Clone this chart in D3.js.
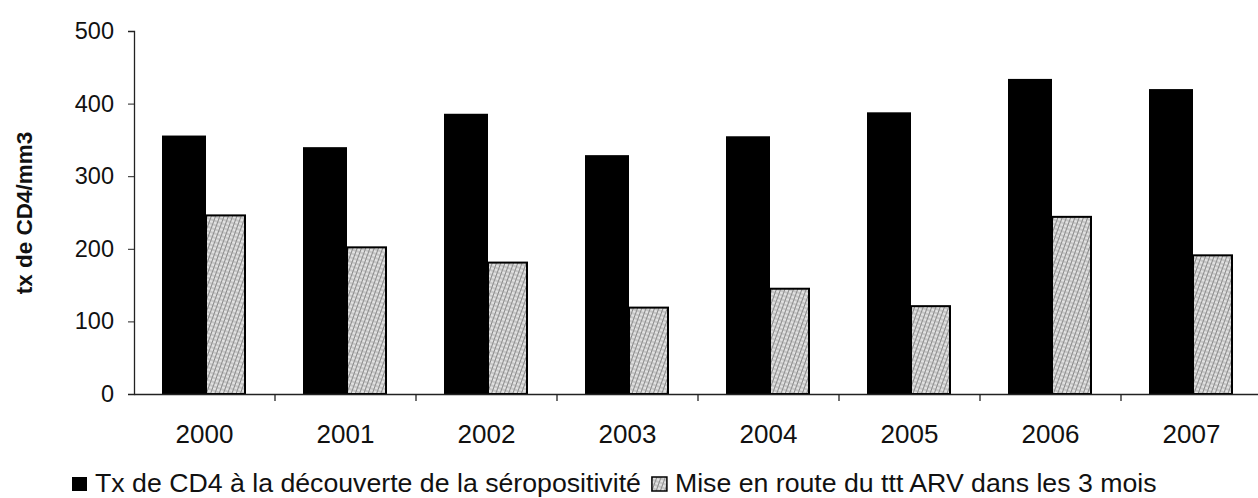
<!DOCTYPE html>
<html>
<head>
<meta charset="utf-8">
<script src="https://cdn.jsdelivr.net/npm/d3@7"></script>
<style>
  body { margin: 0; background: #fff; }
  svg { font-family: Arial, "Liberation Sans", sans-serif; }
</style>
</head>
<body>
<svg width="1258" height="498"></svg>
<script>
let years = ["2000", "2001", "2002", "2003", "2004", "2005", "2006", "2007"];
let cd4Decouverte = [356, 340, 386, 329, 355, 388, 434, 420];
let cd4MiseEnRoute = [246, 202, 181, 119, 145, 121, 244, 191];
let seriesNames = ["Tx de CD4 à la découverte de la séropositivité", "Mise en route du ttt ARV dans les 3 mois"];
let yTicks = [0, 100, 200, 300, 400, 500];

let svg = d3.select("svg");

// hatch pattern for second series
let defs = svg.append("defs");
let pat = defs.append("pattern")
  .attr("id", "hatch")
  .attr("width", 4).attr("height", 4)
  .attr("patternUnits", "userSpaceOnUse")
  .attr("patternTransform", "rotate(20)");
pat.append("rect").attr("width", 4).attr("height", 4).attr("fill", "#e2e2e2");
pat.append("line").attr("x1", 0).attr("y1", 0).attr("x2", 0).attr("y2", 4)
  .attr("stroke", "#4a4a4a").attr("stroke-width", 1.2);
pat.append("line").attr("x1", 0).attr("y1", 2).attr("x2", 4).attr("y2", 2)
  .attr("stroke", "#999").attr("stroke-width", 0.8);

let plotLeft = 134, plotRight = 1262, plotTop = 31, plotBottom = 394;

let x = d3.scaleBand().domain(years).range([plotLeft, plotRight]);
let y = d3.scaleLinear().domain([0, 500]).range([plotBottom, plotTop]);

// groups of bars
let groupOffset = 28, blackW = 44, hatchW = 39;

svg.selectAll(".bar1").data(cd4Decouverte).enter().append("rect")
  .attr("class", "bar1")
  .attr("x", (d, i) => x(years[i]) + groupOffset)
  .attr("y", d => y(d))
  .attr("width", blackW)
  .attr("height", d => plotBottom - y(d))
  .attr("fill", "#000");

svg.selectAll(".bar2").data(cd4MiseEnRoute).enter().append("rect")
  .attr("class", "bar2")
  .attr("x", (d, i) => x(years[i]) + groupOffset + blackW)
  .attr("y", d => y(d))
  .attr("width", hatchW)
  .attr("height", d => plotBottom - y(d))
  .attr("fill", "url(#hatch)")
  .attr("stroke", "#000")
  .attr("stroke-width", 2);

// y axis
let yAxis = svg.append("g")
  .attr("transform", `translate(${plotLeft},0)`)
  .call(d3.axisLeft(y).tickValues(yTicks).tickSize(6).tickPadding(14));
yAxis.select(".domain").attr("stroke", "#222").attr("stroke-width", 1.3);
yAxis.selectAll(".tick line").attr("stroke", "#222");
yAxis.selectAll("text").attr("font-size", 23.5).attr("fill", "#111");

// x axis
let xAxis = svg.append("g")
  .attr("transform", `translate(0,${plotBottom})`)
  .call(d3.axisBottom(x).tickSize(0).tickPadding(30));
xAxis.select(".domain").attr("stroke", "#222").attr("stroke-width", 1.3);
xAxis.selectAll("text").attr("font-size", 26).attr("fill", "#111")
  .attr("dy", null).attr("y", 49);

// boundary ticks between categories
svg.selectAll(".xtick").data(years).enter().append("line")
  .attr("class", "xtick")
  .attr("x1", d => x(d) + x.bandwidth())
  .attr("x2", d => x(d) + x.bandwidth())
  .attr("y1", plotBottom).attr("y2", plotBottom + 7)
  .attr("stroke", "#222").attr("stroke-width", 1.3);

// y label
svg.append("text")
  .attr("transform", "translate(32,213) rotate(-90)")
  .attr("text-anchor", "middle")
  .attr("font-size", 22.5)
  .attr("font-weight", "bold")
  .attr("fill", "#111")
  .text("tx de CD4/mm3");

// legend
let legend = svg.append("g").attr("transform", "translate(72,492)");
let lx = 0;
seriesNames.forEach((name, i) => {
  legend.append("rect")
    .attr("x", lx).attr("y", -15)
    .attr("width", 15).attr("height", 14)
    .attr("fill", i === 0 ? "#000" : "url(#hatch)")
    .attr("stroke", "#000").attr("stroke-width", i === 0 ? 0 : 1.5);
  let t = legend.append("text")
    .attr("x", lx + 23).attr("y", 0)
    .attr("font-size", 26.7)
    .attr("fill", "#111")
    .text(name);
  lx += 23 + t.node().getComputedTextLength() + 11;
});
</script>
</body>
</html>
